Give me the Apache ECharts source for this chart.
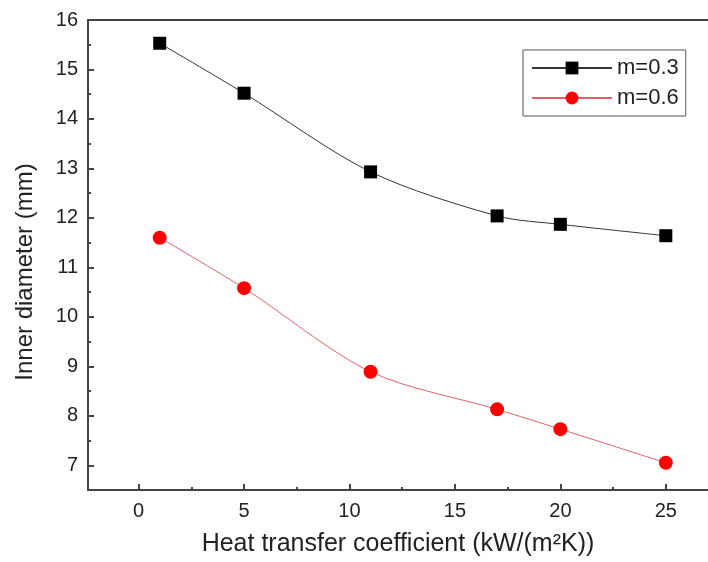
<!DOCTYPE html>
<html>
<head>
<meta charset="utf-8">
<script src="https://cdn.jsdelivr.net/npm/echarts@6/dist/echarts.min.js"></script>
<style>
  html, body { margin: 0; padding: 0; background: #fff; }
  #chart { width: 708px; height: 562px; }
</style>
</head>
<body>
<div id="chart"></div>
<script>
// data
var xValues = [1, 5, 11, 17, 20, 25];
var m03 = [15.53, 14.52, 12.93, 12.04, 11.87, 11.64];
var m06 = [11.60, 10.58, 8.89, 8.13, 7.73, 7.05];
var xTicks = [0, 5, 10, 15, 20, 25];
var xMinorTicks = [2.5, 7.5, 12.5, 17.5, 22.5];
var yTicks = [7, 8, 9, 10, 11, 12, 13, 14, 15, 16];
var yMinorTicks = [7.5, 8.5, 9.5, 10.5, 11.5, 12.5, 13.5, 14.5, 15.5];

function pairs(xs, ys) {
  return xs.map(function (x, i) { return [x, ys[i]]; });
}

var chart = echarts.init(document.getElementById('chart'));
var axisColor = '#444';
var textColor = '#222';
var font = 'Liberation Sans, Arial, sans-serif';

var option = {
  animation: false,
  grid: { left: 88, right: 0, top: 20, bottom: 71 },
  legend: {
    orient: 'vertical',
    left: 523,
    top: 50,
    borderColor: '#555',
    borderWidth: 1,
    padding: [7, 7, 7, 8],
    itemWidth: 80,
    itemHeight: 16,
    itemGap: 8,
    textStyle: { fontSize: 22, color: textColor, fontFamily: font },
    data: ['m=0.3', 'm=0.6']
  },
  xAxis: [
    {
      type: 'value', min: -2.4, max: 27, position: 'bottom',
      name: 'Heat transfer coefficient (kW/(m²K))',
      nameLocation: 'middle', nameGap: 42,
      nameTextStyle: { fontSize: 25, color: textColor, fontFamily: font },
      axisLine: { onZero: false, lineStyle: { color: axisColor, width: 2 } },
      axisTick: { inside: true, length: 6, customValues: xTicks, lineStyle: { color: axisColor, width: 2 } },
      axisLabel: { customValues: xTicks, fontSize: 20, color: textColor, fontFamily: font, margin: 11 },
      splitLine: { show: false }
    },
    {
      type: 'value', min: -2.4, max: 27, position: 'bottom',
      axisLine: { show: false, onZero: false },
      axisTick: { inside: true, length: 3, customValues: xMinorTicks, lineStyle: { color: axisColor, width: 2 } },
      axisLabel: { show: false },
      splitLine: { show: false }
    },
    {
      type: 'value', min: -2.4, max: 27, position: 'top',
      axisLine: { show: true, onZero: false, lineStyle: { color: axisColor, width: 2 } },
      axisTick: { show: false },
      axisLabel: { show: false },
      splitLine: { show: false }
    }
  ],
  yAxis: [
    {
      type: 'value', min: 6.5, max: 16, position: 'left',
      name: 'Inner diameter (mm)',
      nameLocation: 'middle', nameGap: 51,
      nameTextStyle: { fontSize: 24, color: textColor, fontFamily: font, padding: [0, 34, 0, 0] },
      axisLine: { show: true, onZero: false, lineStyle: { color: axisColor, width: 2 } },
      axisTick: { inside: true, length: 6, customValues: yTicks, lineStyle: { color: axisColor, width: 2 } },
      axisLabel: { customValues: yTicks, fontSize: 20, color: textColor, fontFamily: font, margin: 10 },
      splitLine: { show: false }
    },
    {
      type: 'value', min: 6.5, max: 16, position: 'left',
      axisLine: { show: false, onZero: false },
      axisTick: { inside: true, length: 3, customValues: yMinorTicks, lineStyle: { color: axisColor, width: 2 } },
      axisLabel: { show: false },
      splitLine: { show: false }
    }
  ],
  series: [
    {
      name: 'm=0.3',
      type: 'line',
      data: pairs(xValues, m03),
      smooth: 0.3,
      symbol: 'rect',
      symbolSize: 13,
      itemStyle: { color: '#000' },
      lineStyle: { color: '#333', width: 1 }
    },
    {
      name: 'm=0.6',
      type: 'line',
      data: pairs(xValues, m06),
      smooth: 0.3,
      symbol: 'circle',
      symbolSize: 14,
      itemStyle: { color: '#ff0000' },
      lineStyle: { color: '#e0606a', width: 1 }
    }
  ]
};

chart.setOption(option);
window.addEventListener('resize', function () {
  chart.resize();
});
</script>
</body>
</html>
